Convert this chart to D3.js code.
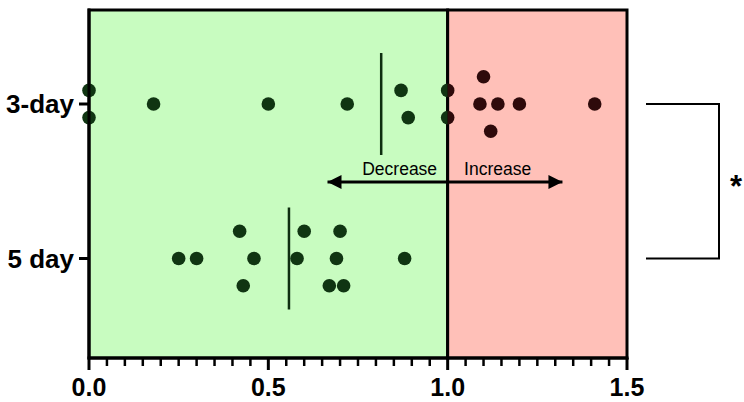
<!DOCTYPE html>
<html>
<head>
<meta charset="utf-8">
<script src="https://cdn.jsdelivr.net/npm/d3@7"></script>
<style>
  html, body { margin: 0; padding: 0; background: #fff; }
  svg { display: block; }
  text { font-family: "Liberation Sans", Arial, Helvetica, sans-serif; }
</style>
</head>
<body>
<svg id="chart" width="744" height="402"></svg>
<script>
// ---- data ----
const categories = ["3-day", "5 day"];
const values3day = [0, 0, 0.18, 0.50, 0.72, 0.87, 0.89, 1.00, 1.00, 1.10, 1.09, 1.14, 1.20, 1.41, 1.12];
const lanes3day  = [-1, 1, 0, 0, 0, -1, 1, -1, 1, -2, 0, 0, 0, 0, 2];
const values5day = [0.42, 0.25, 0.30, 0.46, 0.43, 0.60, 0.70, 0.58, 0.69, 0.88, 0.67, 0.71];
const lanes5day  = [-2, 0, 0, 0, 2, -2, -2, 0, 0, 0, 2, 2];
const xDomain = [0, 1.5];
const majorTicks = [0, 0.5, 1.0, 1.5];
const tickLabels = ["0.0", "0.5", "1.0", "1.5"];
const threshold = 1.0;
const arrowRange = [0.665, 1.32];
const arrowLabels = ["Decrease", "Increase"];
const significance = "*";

const series = [
  { cat: categories[0], values: values3day, lanes: lanes3day },
  { cat: categories[1], values: values5day, lanes: lanes5day }
];

// ---- layout ----
const svg = d3.select("#chart");
const pLeft = 89, pRight = 627, pTop = 10, pBottom = 358;
const x = d3.scaleLinear().domain(xDomain).range([pLeft, pRight]);
const y = d3.scalePoint().domain(categories).range([104, 258.5]);
const laneStep = 13.6, r = 6.8;

// backgrounds
svg.append("rect")
  .attr("x", x(0)).attr("y", pTop)
  .attr("width", x(threshold) - x(0)).attr("height", pBottom - pTop)
  .attr("fill", "#c8fcc0").attr("stroke", "#000").attr("stroke-width", 3);
svg.append("rect")
  .attr("x", x(threshold)).attr("y", pTop)
  .attr("width", x(xDomain[1]) - x(threshold)).attr("height", pBottom - pTop)
  .attr("fill", "#ffc0b8").attr("stroke", "#000").attr("stroke-width", 3);

// clip regions for dot colouring
const defs = svg.append("defs");
defs.append("clipPath").attr("id", "clipG").append("rect")
  .attr("x", 0).attr("y", 0).attr("width", x(threshold)).attr("height", 402);
defs.append("clipPath").attr("id", "clipR").append("rect")
  .attr("x", x(threshold)).attr("y", 0).attr("width", 744 - x(threshold)).attr("height", 402);

const pts = [];
series.forEach(s => s.values.forEach((v, i) => pts.push({ cat: s.cat, v, lane: s.lanes[i] })));

[["clipG", "#103512"], ["clipR", "#2e0a0b"]].forEach(([clip, col]) => {
  svg.append("g").attr("clip-path", `url(#${clip})`)
    .selectAll("circle").data(pts).join("circle")
    .attr("cx", d => x(d.v))
    .attr("cy", d => y(d.cat) + d.lane * laneStep)
    .attr("r", r)
    .attr("fill", col);
});

// mean lines
series.forEach(s => {
  const m = d3.mean(s.values);
  svg.append("line")
    .attr("x1", x(m)).attr("x2", x(m))
    .attr("y1", y(s.cat) - 51).attr("y2", y(s.cat) + 51)
    .attr("stroke", "#0e2e10").attr("stroke-width", 2.5);
});

// x axis
const xAxis = svg.append("g").attr("transform", `translate(0,${pBottom})`);
xAxis.append("line").attr("x1", pLeft - 1.5).attr("x2", pRight + 1.5)
  .attr("stroke", "#000").attr("stroke-width", 3);
const minor = d3.range(0, 31).map(i => i * 0.05).filter(v => !majorTicks.some(t => Math.abs(t - v) < 1e-6));
xAxis.selectAll(".minor").data(minor).join("line")
  .attr("x1", d => x(d)).attr("x2", d => x(d))
  .attr("y1", 0).attr("y2", 8)
  .attr("stroke", "#000").attr("stroke-width", 2.5);
xAxis.selectAll(".major").data(majorTicks).join("line")
  .attr("x1", d => x(d)).attr("x2", d => x(d))
  .attr("y1", 0).attr("y2", 12)
  .attr("stroke", "#000").attr("stroke-width", 3);
xAxis.selectAll("text").data(majorTicks).join("text")
  .attr("x", d => x(d)).attr("y", 38)
  .attr("text-anchor", "middle")
  .attr("font-size", 25).attr("font-weight", "bold")
  .text((d, i) => tickLabels[i]);

// y axis
svg.append("line").attr("x1", pLeft).attr("x2", pLeft)
  .attr("y1", pTop - 1.5).attr("y2", pBottom)
  .attr("stroke", "#000").attr("stroke-width", 3);
categories.forEach(c => {
  svg.append("line").attr("x1", pLeft - 10).attr("x2", pLeft)
    .attr("y1", y(c)).attr("y2", y(c))
    .attr("stroke", "#000").attr("stroke-width", 3);
  svg.append("text").attr("x", pLeft - 15).attr("y", y(c)).attr("dy", "0.35em")
    .attr("text-anchor", "end")
    .attr("font-size", 26).attr("font-weight", "bold")
    .text(c);
});

// arrow
const ay = 182;
defs.append("marker").attr("id", "ah").attr("viewBox", "0 0 10 10")
  .attr("refX", 10).attr("refY", 5).attr("markerWidth", 15).attr("markerHeight", 14)
  .attr("markerUnits", "userSpaceOnUse").attr("orient", "auto-start-reverse")
  .append("path").attr("d", "M0,0 L10,5 L0,10 Z").attr("fill", "#000");
svg.append("line")
  .attr("x1", x(arrowRange[0])).attr("x2", x(arrowRange[1]))
  .attr("y1", ay).attr("y2", ay)
  .attr("stroke", "#000").attr("stroke-width", 3)
  .attr("marker-start", "url(#ah)").attr("marker-end", "url(#ah)");
svg.append("text").attr("x", x(threshold) - 48).attr("y", 175)
  .attr("text-anchor", "middle").attr("font-size", 17.5).text(arrowLabels[0]);
svg.append("text").attr("x", x(threshold) + 50).attr("y", 175)
  .attr("text-anchor", "middle").attr("font-size", 17.5).text(arrowLabels[1]);

// significance bracket
const bx0 = 646, bx1 = 719;
svg.append("path")
  .attr("d", `M${bx0},${y(categories[0])} H${bx1} V${y(categories[1])} H${bx0}`)
  .attr("fill", "none").attr("stroke", "#000").attr("stroke-width", 2);
svg.append("text").attr("x", 736).attr("y", (y(categories[0]) + y(categories[1])) / 2 + 16)
  .attr("text-anchor", "middle").attr("font-size", 31).attr("font-weight", "bold")
  .text(significance);
</script>
</body>
</html>
